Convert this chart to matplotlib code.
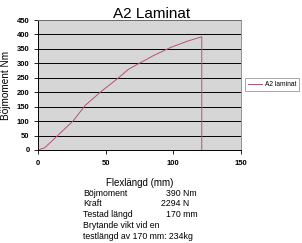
import matplotlib
matplotlib.use("Agg")
import matplotlib.pyplot as plt

plt.rcParams['font.family'] = ['Liberation Sans', 'DejaVu Sans']

flex = [0, 5, 15, 26, 35, 47, 55, 61, 67, 76, 85, 98, 110, 121, 121]
moment = [0, 8, 52, 101, 155, 204, 233, 256, 280, 303, 326, 355, 376, 392, 0]
series_name = "A2 laminat"
xticks = [0, 50, 100, 150]
yticks = [0, 50, 100, 150, 200, 250, 300, 350, 400, 450]

fig = plt.figure(figsize=(3.02, 2.43), dpi=100)
W, H = 302, 243
ax = fig.add_axes([38 / W, 1 - 150 / H, (241 - 38) / W, (150 - 20) / H])
ax.set_facecolor('#d6d6d6')
line, = ax.plot(flex, moment, color='#b8507e', lw=0.7, label=series_name)
ax.set_xlim(0, 150)
ax.set_ylim(0, 450)
ax.set_xticks(xticks)
ax.set_yticks(yticks)
ax.yaxis.grid(True, color='black', lw=0.7)
ax.set_axisbelow(True)
ax.tick_params(labelsize=5.5, length=3, width=0.6)
ax.tick_params(axis='x', pad=4)
ax.tick_params(axis='y', pad=3)
for lab in ax.get_xticklabels() + ax.get_yticklabels():
    lab.set_fontweight('bold')
for s in ['top', 'right']:
    ax.spines[s].set_color('#808080')
    ax.spines[s].set_linewidth(0.6)
for s in ['left', 'bottom']:
    ax.spines[s].set_linewidth(0.7)

fig.text(151.5 / W, 1 - 18.5 / H, "A2 Laminat", fontsize=11, ha='center', va='baseline')
ax.set_ylabel("Böjmoment Nm", fontsize=7.2, labelpad=4)
ax.set_xlabel("Flexlängd (mm)", fontsize=7, labelpad=8)

leg = fig.legend(handles=[line], loc='center left', bbox_to_anchor=(245 / W, 1 - 84.5 / H),
                 fontsize=4.8, frameon=True, fancybox=False, edgecolor='#808080',
                 handlelength=2.2, handletextpad=0.4, borderpad=0.4, borderaxespad=0)
leg.get_frame().set_linewidth(0.6)

fs = 6.3
rows = [("Böjmoment", "390 Nm", 166), ("Kraft", "2294 N", 161), ("Testad längd", "170 mm", 166)]
ys = [193, 203.5, 214]
for (lab, val, vx), y in zip(rows, ys):
    fig.text(83 / W, 1 - y / H, lab, fontsize=fs, va='center')
    fig.text(vx / W, 1 - y / H, val, fontsize=fs, va='center')
fig.text(83 / W, 1 - 225 / H, "Brytande vikt vid en", fontsize=fs, va='center')
fig.text(83 / W, 1 - 236 / H, "testlängd av 170 mm: 234kg", fontsize=fs, va='center')

fig.savefig("out.png", dpi=100)
